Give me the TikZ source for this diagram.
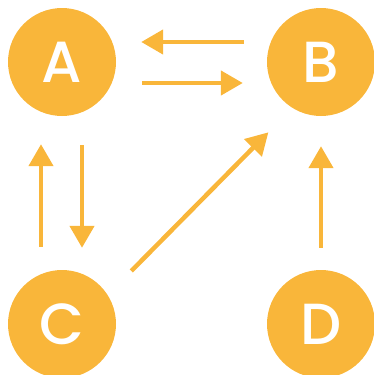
\documentclass[tikz,border=0pt]{standalone}
\usepackage{fontspec}
\setmainfont{Poppins}[BoldFont={Poppins Medium}]
\usetikzlibrary{arrows.meta}
\definecolor{gold}{HTML}{F9B63A}
\begin{document}
\begin{tikzpicture}[x=1pt,y=-1pt]
\tikzset{
  letter/.style={circle,fill=gold,minimum size=108pt,inner sep=0pt,
    text=white,font=\fontsize{58}{58}\selectfont\bfseries},
  link/.style={draw=gold,line width=4.5pt,-{Triangle[length=22pt,width=24pt]}},
}
\useasboundingbox (0,0) rectangle (373,375);
\foreach \n/\x/\y in {A/62/62,B/321/62,C/62/324,D/321/324}{
    \node [letter] (\n) at (\x,\y) {\n};
}
\draw[link,shorten <=26pt,shorten >=24pt,transform canvas={yshift=-21pt}] (A) -- (B);
\draw[link,shorten <=23pt,shorten >=25pt,transform canvas={yshift=20pt}] (B) -- (A);
\draw[link,shorten <=29pt,shorten >=22pt,transform canvas={xshift=20pt}] (A) -- (C);
\draw[link,shorten <=23pt,shorten >=28pt,transform canvas={xshift=-21pt}] (C) -- (A);
\draw[link,shorten <=22pt,shorten >=30pt] (D) -- (B);
\draw[link,shorten <=33pt,shorten >=32pt,transform canvas={xshift=8pt,yshift=-9pt}] (C) -- (B);
\end{tikzpicture}
\end{document}
